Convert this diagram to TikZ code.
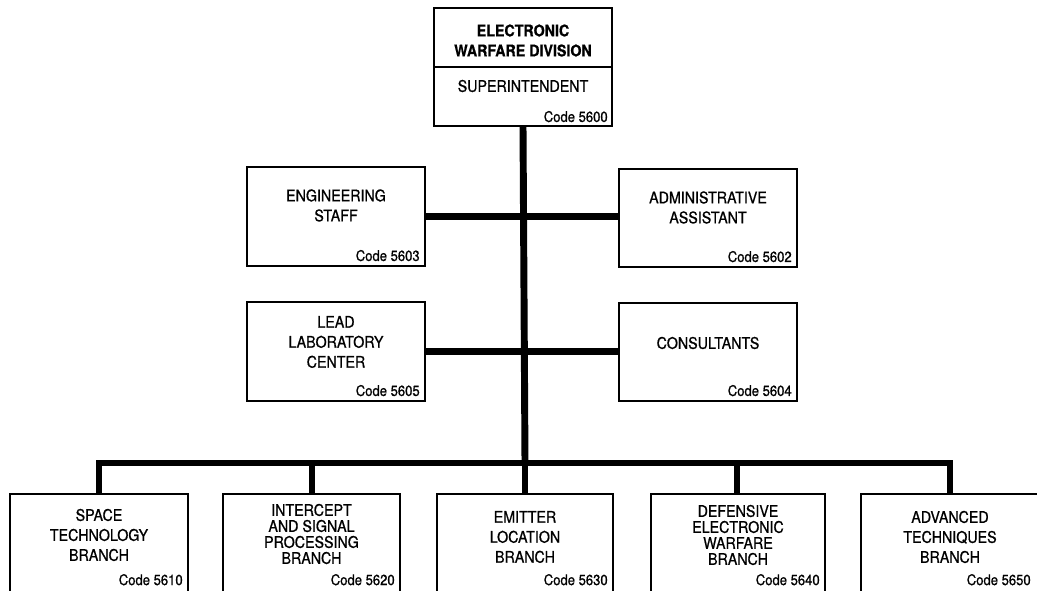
\documentclass[tikz,border=0pt]{standalone}
\usepackage{fontspec}
\setmainfont{TeX Gyre Heros}[FakeStretch=0.89, FakeBold=0.8]
\newcommand{\lbfont}{\fontsize{12}{15}\selectfont}
\newcommand{\tightfont}{\fontsize{12}{12}\selectfont}
\newcommand{\codefont}{\fontsize{11}{13}\selectfont}
\begin{document}
\begin{tikzpicture}[x=0.75pt,y=-0.75pt,
  box/.style={draw, line width=1.4pt, fill=white, inner sep=0pt},
  conn/.style={line width=5.2pt},
  lbl/.style={font=\lbfont, align=center, inner sep=0pt},
  tlbl/.style={font=\tightfont, align=center, inner sep=0pt},
  code/.style={font=\codefont, anchor=base east, inner sep=0pt}]
\clip (0,0) rectangle (1037,590);
\fill[white] (0,0) rectangle (1037,590);
% boxes
\node[box, minimum width=133.5pt, minimum height=88.5pt] (ew) at (523,67) {};
\node[box, minimum width=133.5pt, minimum height=74.25pt] (eng) at (336,216.5) {};
\node[box, minimum width=133.5pt, minimum height=73.5pt] (adm) at (708,218) {};
\node[box, minimum width=133.5pt, minimum height=74.25pt] (lead) at (336,351.5) {};
\node[box, minimum width=133.5pt, minimum height=73.5pt] (cons) at (708,352) {};
\node[box, minimum width=133.5pt, minimum height=94.5pt] (sp) at (99,557) {};
\node[box, minimum width=132.75pt, minimum height=94.5pt] (ic) at (311.5,557) {};
\node[box, minimum width=132pt, minimum height=94.5pt] (em) at (525,557) {};
\node[box, minimum width=130.5pt, minimum height=94.5pt] (def) at (738,557) {};
\node[box, minimum width=133.5pt, minimum height=94.5pt] (adv) at (950,557) {};
% divider in top box
\draw[line width=1.4pt] (ew.west) -- (ew.east);
% connectors
\coordinate (bus) at (525,463);
\draw[conn] (ew.south) -- (bus);
\draw[conn] (eng.east) -- (eng.east -| adm.west);
\draw[conn] (lead.east) -- (lead.east -| cons.west);
\draw[conn, line cap=rect] (sp.north |- bus) -- (adv.north |- bus);
\draw[conn] (sp.north |- bus) -- (sp.north);
\draw[conn] (312,463) -- (312,494);
\draw[conn] (em.north |- bus) -- (em.north);
\draw[conn] (737,463) -- (737,494);
\draw[conn] (adv.north |- bus) -- (adv.north);
% labels
\node[lbl, font=\lbfont\bfseries] (ewt) at (523,40.5) {ELECTRONIC\\WARFARE DIVISION};
\node[lbl] (sup) at (523,86) {SUPERINTENDENT};
\node[code] (c5600) at ([shift={(-5,-5)}]ew.south east) {Code 5600};
\node[lbl] (engt) at (336,205.5) {ENGINEERING\\STAFF};
\node[code] (c5603) at ([shift={(-6,-6)}]eng.south east) {Code 5603};
\node[lbl] (admt) at (708,207.5) {ADMINISTRATIVE\\ASSISTANT};
\node[code] (c5602) at ([shift={(-6,-6)}]adm.south east) {Code 5602};
\node[lbl] (leadt) at (336,342) {LEAD\\LABORATORY\\CENTER};
\node[code] (c5605) at ([shift={(-6,-6)}]lead.south east) {Code 5605};
\node[lbl] (const) at (708,343) {CONSULTANTS};
\node[code] (c5604) at ([shift={(-6,-6)}]cons.south east) {Code 5604};
\node[lbl] (spt) at (99,535) {SPACE\\TECHNOLOGY\\BRANCH};
\node[code] (c5610) at ([shift={(-6,92)}]sp.north east) {Code 5610};
\node[tlbl] (ict) at (311.5,534) {INTERCEPT\\AND SIGNAL\\PROCESSING\\BRANCH};
\node[code] (c5620) at ([shift={(-6,92)}]ic.north east) {Code 5620};
\node[lbl] (emt) at (525,537) {EMITTER\\LOCATION\\BRANCH};
\node[code] (c5630) at ([shift={(-6,92)}]em.north east) {Code 5630};
\node[tlbl] (deft) at (738,535) {DEFENSIVE\\ELECTRONIC\\WARFARE\\BRANCH};
\node[code] (c5640) at ([shift={(-6,92)}]def.north east) {Code 5640};
\node[lbl] (advt) at (950,537) {ADVANCED\\TECHNIQUES\\BRANCH};
\node[code] (c5650) at ([shift={(-9,92)}]adv.north east) {Code 5650};
\end{tikzpicture}
\end{document}
